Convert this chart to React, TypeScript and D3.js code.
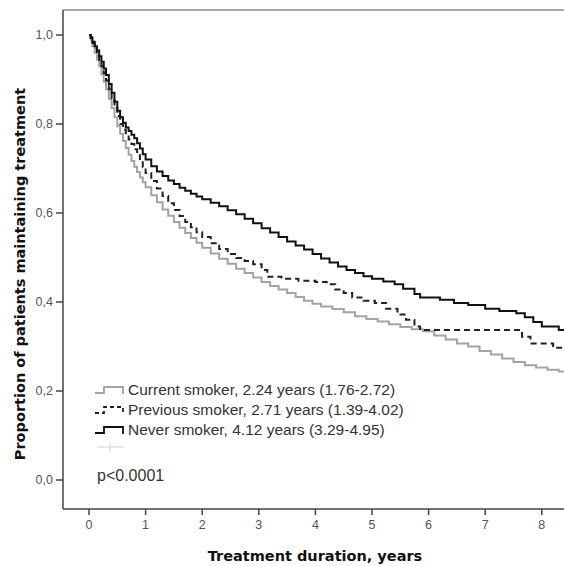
import React, { useEffect, useRef } from "react";
import * as d3 from "d3";

// Kaplan-Meier style curves, [years, proportion]
const currentSmoker: [number, number][] = [
  [0, 1.0], [0.03, 0.99], [0.06, 0.975], [0.1, 0.96], [0.14, 0.945], [0.18, 0.93],
  [0.22, 0.912], [0.26, 0.895], [0.3, 0.878], [0.35, 0.857], [0.4, 0.836], [0.45, 0.815],
  [0.5, 0.795], [0.55, 0.778], [0.6, 0.762], [0.65, 0.746], [0.7, 0.731], [0.75, 0.717],
  [0.8, 0.704], [0.85, 0.692], [0.9, 0.68], [0.95, 0.669], [1.0, 0.658], [1.1, 0.64],
  [1.2, 0.624], [1.3, 0.608], [1.4, 0.594], [1.5, 0.58], [1.6, 0.567], [1.7, 0.555],
  [1.8, 0.544], [1.9, 0.533], [2.0, 0.522], [2.15, 0.509], [2.3, 0.497], [2.45, 0.486],
  [2.6, 0.475], [2.75, 0.465], [2.9, 0.455], [3.05, 0.445], [3.2, 0.436], [3.35, 0.428],
  [3.5, 0.42], [3.65, 0.411], [3.8, 0.403], [3.95, 0.396], [4.1, 0.39], [4.3, 0.384],
  [4.5, 0.377], [4.7, 0.368], [4.9, 0.362], [5.1, 0.356], [5.3, 0.35], [5.5, 0.344],
  [5.7, 0.339], [5.9, 0.334], [6.1, 0.325], [6.3, 0.316], [6.5, 0.307], [6.7, 0.3],
  [6.9, 0.29], [7.1, 0.282], [7.3, 0.273], [7.5, 0.265], [7.7, 0.258], [7.9, 0.253],
  [8.1, 0.248], [8.3, 0.244], [8.5, 0.24],
];

const previousSmoker: [number, number][] = [
  [0, 1.0], [0.03, 0.993], [0.06, 0.982], [0.1, 0.97], [0.14, 0.958], [0.18, 0.944],
  [0.22, 0.93], [0.26, 0.914], [0.3, 0.898], [0.35, 0.878], [0.4, 0.858], [0.45, 0.838],
  [0.5, 0.818], [0.55, 0.8], [0.6, 0.787], [0.65, 0.775], [0.7, 0.765], [0.75, 0.755],
  [0.8, 0.743], [0.85, 0.73], [0.9, 0.717], [0.95, 0.703], [1.0, 0.69], [1.1, 0.672],
  [1.2, 0.655], [1.3, 0.638], [1.4, 0.622], [1.5, 0.607], [1.6, 0.593], [1.7, 0.58],
  [1.8, 0.568], [1.9, 0.557], [2.0, 0.546], [2.15, 0.532], [2.3, 0.519], [2.45, 0.508],
  [2.6, 0.499], [2.75, 0.492], [2.9, 0.485], [3.05, 0.472], [3.15, 0.457], [3.4, 0.452],
  [3.7, 0.448], [4.0, 0.445], [4.2, 0.44], [4.35, 0.428], [4.5, 0.42], [4.65, 0.41],
  [4.85, 0.403], [5.05, 0.398], [5.25, 0.385], [5.45, 0.372], [5.6, 0.36], [5.75, 0.345],
  [5.85, 0.337], [7.65, 0.322], [7.8, 0.307], [8.2, 0.297], [8.5, 0.297],
];

const neverSmoker: [number, number][] = [
  [0, 1.0], [0.03, 0.995], [0.06, 0.985], [0.1, 0.975], [0.14, 0.965], [0.18, 0.952],
  [0.22, 0.94], [0.26, 0.925], [0.3, 0.91], [0.35, 0.89], [0.4, 0.87], [0.45, 0.85],
  [0.5, 0.83], [0.55, 0.815], [0.6, 0.803], [0.65, 0.792], [0.7, 0.784], [0.75, 0.776],
  [0.8, 0.768], [0.85, 0.757], [0.9, 0.745], [0.95, 0.732], [1.0, 0.72], [1.1, 0.705],
  [1.2, 0.693], [1.3, 0.683], [1.4, 0.673], [1.5, 0.665], [1.6, 0.657], [1.7, 0.65],
  [1.8, 0.643], [1.9, 0.637], [2.0, 0.631], [2.15, 0.623], [2.3, 0.615], [2.45, 0.606],
  [2.6, 0.597], [2.75, 0.587], [2.9, 0.577], [3.05, 0.566], [3.2, 0.556], [3.35, 0.546],
  [3.5, 0.536], [3.65, 0.527], [3.8, 0.518], [3.95, 0.508], [4.1, 0.498], [4.25, 0.489],
  [4.4, 0.48], [4.55, 0.472], [4.7, 0.465], [4.85, 0.458], [5.0, 0.452], [5.2, 0.446],
  [5.4, 0.44], [5.55, 0.43], [5.75, 0.418], [5.85, 0.41], [6.2, 0.405], [6.45, 0.398],
  [6.7, 0.393], [7.0, 0.385], [7.25, 0.38], [7.55, 0.375], [7.7, 0.366], [7.85, 0.355],
  [8.0, 0.345], [8.3, 0.337], [8.5, 0.337],
];

const legendLabels = [
  "Current smoker, 2.24 years (1.76-2.72)",
  "Previous smoker, 2.71 years (1.39-4.02)",
  "Never smoker, 4.12 years (3.29-4.95)",
];

const xTicks = [0, 1, 2, 3, 4, 5, 6, 7, 8];
const yTicks = [0, 0.2, 0.4, 0.6, 0.8, 1.0];

export default function App() {
  const ref = useRef<SVGSVGElement>(null);

  useEffect(() => {
    const svg = d3.select(ref.current);
    svg.selectAll("*").remove();

    const W = 564, H = 566;
    const left = 63, top = 10, bottom = 509;
    const tickFont = "'Liberation Sans', Arial, sans-serif";
    const titleFont = "'DejaVu Sans', sans-serif";

    const x = d3.scaleLinear().domain([0, 8.5]).range([89, 89 + 8.5 * 56.6]);
    const y = d3.scaleLinear().domain([0, 1]).range([480, 35]);

    svg.attr("width", W).attr("height", H);

    const series = [
      { data: currentSmoker, color: "#a3a3a3", dash: null },
      { data: previousSmoker, color: "#222", dash: "6,4" },
      { data: neverSmoker, color: "#111", dash: null },
    ];

    const line = d3.line<[number, number]>()
      .x((d) => x(d[0]))
      .y((d) => y(d[1]))
      .curve(d3.curveStepAfter);

    series.forEach((s) => {
      svg.append("path")
        .attr("d", line(s.data))
        .attr("fill", "none")
        .attr("stroke", s.color)
        .attr("stroke-width", 2)
        .attr("stroke-dasharray", s.dash);
    });

    // frame
    svg.append("line").attr("x1", left).attr("x2", W).attr("y1", top).attr("y2", top)
      .attr("stroke", "#8a8a8a").attr("stroke-width", 1.5);
    svg.append("line").attr("x1", left).attr("x2", left).attr("y1", top).attr("y2", bottom)
      .attr("stroke", "#444").attr("stroke-width", 1.5);
    svg.append("line").attr("x1", left).attr("x2", W).attr("y1", bottom).attr("y2", bottom)
      .attr("stroke", "#444").attr("stroke-width", 1.5);

    // y ticks
    const yg = svg.append("g");
    yTicks.forEach((v) => {
      yg.append("line").attr("x1", 56).attr("x2", left).attr("y1", y(v)).attr("y2", y(v))
        .attr("stroke", "#444").attr("stroke-width", 1.5);
      yg.append("text").attr("x", 53).attr("y", y(v)).attr("dy", "0.35em")
        .attr("text-anchor", "end").attr("font-family", tickFont).attr("font-size", 12.5)
        .attr("fill", "#555").text(d3.format(".1f")(v).replace(".", ","));
    });

    // x ticks
    const xg = svg.append("g");
    xTicks.forEach((v) => {
      xg.append("line").attr("x1", x(v)).attr("x2", x(v)).attr("y1", bottom).attr("y2", bottom + 6)
        .attr("stroke", "#444").attr("stroke-width", 1.5);
      xg.append("text").attr("x", x(v)).attr("y", bottom + 20)
        .attr("text-anchor", "middle").attr("font-family", tickFont).attr("font-size", 12.5)
        .attr("fill", "#555").text(String(v));
    });

    // axis titles
    svg.append("text").attr("x", 315).attr("y", 561).attr("text-anchor", "middle")
      .attr("font-family", titleFont).attr("font-weight", "bold")
      .attr("font-size", 14.5).attr("fill", "#111").text("Treatment duration, years");
    svg.append("text").attr("transform", "translate(25,274) rotate(-90)").attr("text-anchor", "middle")
      .attr("font-family", titleFont).attr("font-weight", "bold")
      .attr("font-size", 14.5).attr("fill", "#111").text("Proportion of patients maintaining treatment");

    // legend
    const lg = svg.append("g");
    legendLabels.forEach((label, i) => {
      const cy = 390 + i * 20;
      lg.append("path")
        .attr("d", `M95,${cy + 3}H104V${cy - 3}H123V${cy + 4}`)
        .attr("fill", "none").attr("stroke", series[i].color).attr("stroke-width", 1.8)
        .attr("stroke-dasharray", series[i].dash ? "4,3" : null);
      lg.append("text").attr("x", 128).attr("y", cy).attr("dy", "0.35em")
        .attr("font-family", tickFont).attr("font-size", 15.5).attr("fill", "#333").text(label);
    });
    // censored marker row
    lg.append("line").attr("x1", 97).attr("x2", 123).attr("y1", 447).attr("y2", 447)
      .attr("stroke", "#d8d8d8").attr("stroke-width", 1.2);
    lg.append("line").attr("x1", 110).attr("x2", 110).attr("y1", 443).attr("y2", 452)
      .attr("stroke", "#d8d8d8").attr("stroke-width", 1.2);

    svg.append("text").attr("x", 97).attr("y", 475).attr("dy", "0.35em")
      .attr("font-family", tickFont).attr("font-size", 16).attr("fill", "#333").text("p<0.0001");
  }, []);

  return (
    <svg ref={ref} style={{ position: "absolute", left: 0, top: 0, background: "#fff" }}></svg>
  );
}
